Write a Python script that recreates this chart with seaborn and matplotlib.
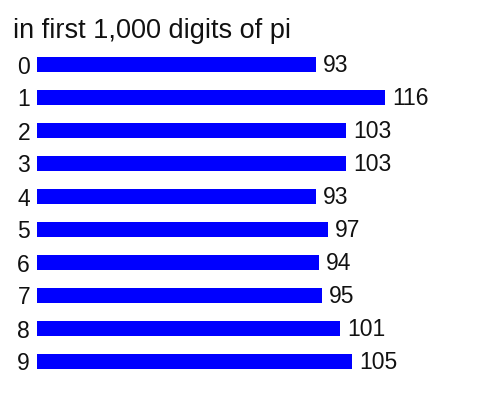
import matplotlib
matplotlib.use("Agg")
import matplotlib.pyplot as plt
import seaborn as sns
import pandas as pd

digits = ["0", "1", "2", "3", "4", "5", "6", "7", "8", "9"]
counts = [93, 116, 103, 103, 93, 97, 94, 95, 101, 105]
title = "in first 1,000 digits of pi"

sns.set_style("white")
plt.rcParams['font.family'] = ['Liberation Sans', 'DejaVu Sans']

W, H = 490, 394
fig = plt.figure(figsize=(W/100, H/100), dpi=100)
left, right = 37, 457
top, bottom = 48, 378
ax = fig.add_axes([left/W, 1 - bottom/H, (right-left)/W, (bottom-top)/H])

df = pd.DataFrame({"digit": digits, "count": counts})
sns.barplot(data=df, x="count", y="digit", orient="h", color="#0000FF",
            saturation=1, width=0.46, linewidth=0, ax=ax)
ax.set_xlim(0, (right-left)/3.0)

LBL = 16.5
for p, v in zip(ax.patches, counts):
    ax.annotate(str(v), xy=(p.get_width(), p.get_y() + p.get_height()/2),
                xytext=(5.0, -5.6), textcoords="offset points",
                ha="left", va="baseline", fontsize=LBL, color="#111111")

ax.set_xlabel("")
ax.set_ylabel("")
ax.set_xticks([])
ax.tick_params(axis="y", length=0, pad=5, labelsize=LBL, labelcolor="#111111")
for s in ax.spines.values():
    s.set_visible(False)
ax.patch.set_alpha(0)

fig.text(13/W, 1 - 38.5/H, title, fontsize=19.5, va="baseline", ha="left", color="#111111")

fig.savefig("out.png", dpi=100, facecolor="white")
